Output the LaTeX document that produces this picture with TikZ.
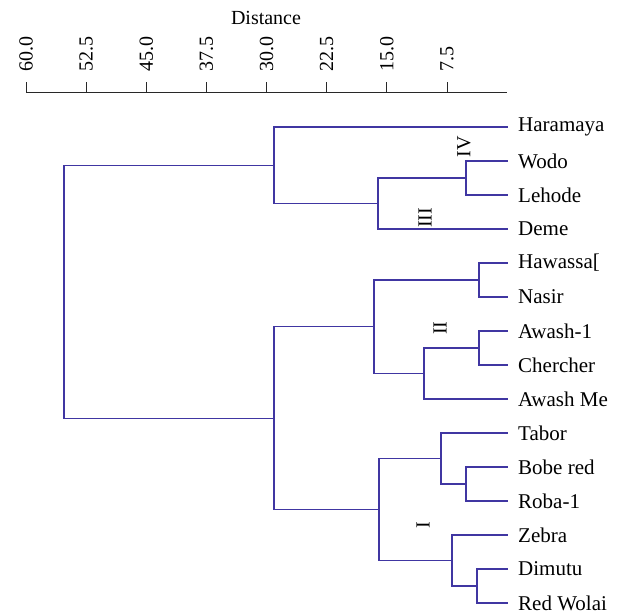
\documentclass[tikz,border=0pt]{standalone}
\usepackage{fontspec}
\setmainfont{Liberation Serif}
\usetikzlibrary{positioning}
\definecolor{treeblue}{RGB}{64,54,162}
\definecolor{axisgray}{RGB}{40,40,40}

\begin{document}
\begin{tikzpicture}[x=1pt, y=-1pt, node distance=10pt,
    branch/.style={draw=treeblue, line width=1.2pt},
    leaf/.style={inner sep=0pt, text=black, font=\fontsize{21}{25}\selectfont},
    tick/.style={rotate=90, anchor=west, inner sep=0pt, font=\fontsize{20}{24}\selectfont},
    group/.style={rotate=90, inner sep=0pt, font=\fontsize{20}{24}\selectfont}]

    \useasboundingbox (0,0) rectangle (617,614);

    % Distance scale (top)
    \node (dist) at (266,18) {\fontsize{20}{24}\selectfont Distance};
    \draw[axisgray, line width=1pt] (26,92) -- (507,92);
    \foreach \v [count=\i from 0] in {60.0,52.5,45.0,37.5,30.0,22.5,15.0,7.5} {
        \draw[axisgray, line width=1pt] (26+60.15*\i,92) -- (26+60.15*\i,82);
        \node[tick] at (26+60.15*\i,72) {\v};
    }

    % Leaf tips
    \coordinate (tHar) at (508,127);
    \coordinate (tWod) at (508,161);
    \coordinate (tLeh) at (508,195);
    \coordinate (tDem) at (508,229);
    \coordinate (tHaw) at (508,263);
    \coordinate (tNas) at (508,297);
    \coordinate (tAw1) at (508,331);
    \coordinate (tChe) at (508,365);
    \coordinate (tAwM) at (508,399);
    \coordinate (tTab) at (508,433);
    \coordinate (tBob) at (508,467);
    \coordinate (tRob) at (508,501);
    \coordinate (tZeb) at (508,535);
    \coordinate (tDim) at (508,569);
    \coordinate (tRed) at (508,603);

    % Leaf labels
    \node[leaf, right=of tHar] (har) {Haramaya};
    \node[leaf, right=of tWod] (wod) {Wodo};
    \node[leaf, right=of tLeh] (leh) {Lehode};
    \node[leaf, right=of tDem] (dem) {Deme};
    \node[leaf, right=of tHaw] (haw) {Hawassa[};
    \node[leaf, right=of tNas] (nas) {Nasir};
    \node[leaf, right=of tAw1] (aw1) {Awash-1};
    \node[leaf, right=of tChe] (che) {Chercher};
    \node[leaf, right=of tAwM] (awm) {Awash Me};
    \node[leaf, right=of tTab] (tab) {Tabor};
    \node[leaf, right=of tBob] (bob) {Bobe red};
    \node[leaf, right=of tRob] (rob) {Roba-1};
    \node[leaf, right=of tZeb] (zeb) {Zebra};
    \node[leaf, right=of tDim] (dim) {Dimutu};
    \node[leaf, right=of tRed] (red) {Red Wolai};

    % Merge points
    \coordinate (cWL) at (466,178);
    \coordinate (cIII) at (378,203.5);
    \coordinate (cTop) at (274,165.25);
    \coordinate (cHN) at (479,280);
    \coordinate (cAC) at (479,348);
    \coordinate (cACM) at (424,373.5);
    \coordinate (cII) at (374,326.75);
    \coordinate (cBR) at (466,484);
    \coordinate (cTBR) at (441,458.5);
    \coordinate (cDR) at (477,586);
    \coordinate (cZDR) at (452,560.5);
    \coordinate (cI) at (379,509.5);
    \coordinate (cBot) at (274,418.1);
    \coordinate (root) at (64,291.7);

    % Cluster III and IV
    \draw[branch] (cWL) |- (tWod);
    \draw[branch] (cWL) |- (tLeh);
    \draw[branch] (cIII) |- (cWL);
    \draw[branch] (cIII) |- (tDem);
    \draw[branch] (cTop) |- (tHar);
    \draw[branch] (cTop) |- (cIII);

    % Cluster II
    \draw[branch] (cHN) |- (tHaw);
    \draw[branch] (cHN) |- (tNas);
    \draw[branch] (cAC) |- (tAw1);
    \draw[branch] (cAC) |- (tChe);
    \draw[branch] (cACM) |- (cAC);
    \draw[branch] (cACM) |- (tAwM);
    \draw[branch] (cII) |- (cHN);
    \draw[branch] (cII) |- (cACM);

    % Cluster I
    \draw[branch] (cBR) |- (tBob);
    \draw[branch] (cBR) |- (tRob);
    \draw[branch] (cTBR) |- (tTab);
    \draw[branch] (cTBR) |- (cBR);
    \draw[branch] (cDR) |- (tDim);
    \draw[branch] (cDR) |- (tRed);
    \draw[branch] (cZDR) |- (tZeb);
    \draw[branch] (cZDR) |- (cDR);
    \draw[branch] (cI) |- (cTBR);
    \draw[branch] (cI) |- (cZDR);

    % Root
    \draw[branch] (cBot) |- (cII);
    \draw[branch] (cBot) |- (cI);
    \draw[branch] (root) |- (cTop);
    \draw[branch] (root) |- (cBot);

    % Group labels
    \node[group] (gIV) at (464,147) {IV};
    \node[group] (gIII) at (425,218) {III};
    \node[group] (gII) at (440,328) {II};
    \node[group] (gI) at (423,525) {I};

\end{tikzpicture}
\end{document}
